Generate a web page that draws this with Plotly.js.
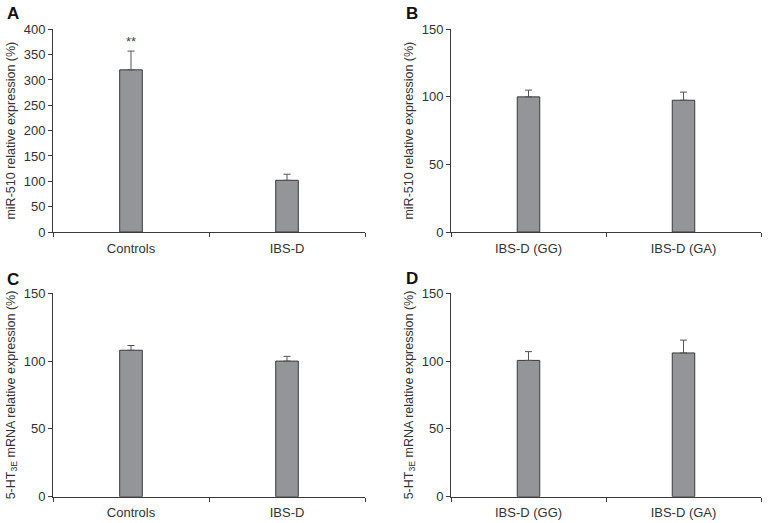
<!DOCTYPE html>
<html>
<head>
<meta charset="utf-8">
<script src="https://cdn.plot.ly/plotly-3.0.1.min.js"></script>
<style>html,body{margin:0;padding:0;background:#fff;}#chart{width:770px;height:523px;}</style>
</head>
<body>
<div id="chart"></div>
<script>
// Data
const catsAC = ["Controls", "IBS-D"];
const catsBD = ["IBS-D (GG)", "IBS-D (GA)"];
const valsA = [320, 102];
const errA = [37, 12];
const valsB = [100, 97.5];
const errB = [5, 6];
const valsC = [108, 100];
const errC = [3.5, 3.5];
const valsD = [100.5, 106];
const errD = [6.5, 9.5];
const yTitleAB = "miR-510 relative expression (%)";
const yTitleCD = "5-HT<sub>3E</sub> mRNA relative expression (%)";
const panelLetters = ["A", "B", "C", "D"];

const barFill = "#939598";
const dark = "#3a3a3a";
const fontFam = "Liberation Sans, Arial, sans-serif";

function barTrace(x, y, err, xa, ya) {
  return {
    type: "bar", x: x, y: y, xaxis: xa, yaxis: ya, width: 0.145,
    marker: {color: barFill, line: {color: dark, width: 1}},
    error_y: {type: "data", symmetric: false, array: err, arrayminus: [0, 0],
              color: "#555", thickness: 1, width: 3.5},
    showlegend: false, hoverinfo: "x+y"
  };
}

const data = [
  barTrace(catsAC, valsA, errA, "x", "y"),
  barTrace(catsBD, valsB, errB, "x2", "y2"),
  barTrace(catsAC, valsC, errC, "x3", "y3"),
  barTrace(catsBD, valsD, errD, "x4", "y4")
];

const W = 770, H = 523;
const xdomL = [53 / W, 365 / W];
const xdomR = [451 / W, 761 / W];
const ydomT = [(H - 232) / H, (H - 29.3) / H];
const ydomB = [(H - 496.7) / H, (H - 293.3) / H];

function xAxis(dom, anchor) {
  return {
    domain: dom, anchor: anchor, type: "category", range: [-0.5, 1.5],
    showline: true, linecolor: dark, linewidth: 1,
    ticks: "outside", tickson: "boundaries", ticklen: 4, tickcolor: dark,
    ticklabelstandoff: 4,
    showgrid: false, zeroline: false,
    tickfont: {size: 13, color: "#333", family: fontFam}
  };
}
function yAxis(dom, anchor, range, dtick, title) {
  return {
    domain: dom, anchor: anchor, range: range, dtick: dtick,
    showline: true, linecolor: dark, linewidth: 1,
    ticks: "outside", ticklen: 4, tickcolor: dark,
    showgrid: false, zeroline: false,
    tickfont: {size: 13, color: "#333", family: fontFam},
    title: {text: title, font: {size: 12.5, color: "#333", family: fontFam}, standoff: 5}
  };
}

const layout = {
  width: W, height: H,
  margin: {l: 0, r: 0, t: 0, b: 0},
  paper_bgcolor: "#fff", plot_bgcolor: "#fff",
  font: {family: fontFam, color: "#333"},
  showlegend: false,
  bargap: 0,
  xaxis: xAxis(xdomL, "y"),
  yaxis: yAxis(ydomT, "x", [0, 400], 50, yTitleAB),
  xaxis2: xAxis(xdomR, "y2"),
  yaxis2: yAxis(ydomT, "x2", [0, 150], 50, yTitleAB),
  xaxis3: xAxis(xdomL, "y3"),
  yaxis3: yAxis(ydomB, "x3", [0, 150], 50, yTitleCD),
  xaxis4: xAxis(xdomR, "y4"),
  yaxis4: yAxis(ydomB, "x4", [0, 150], 50, yTitleCD),
  annotations: [
    {x: catsAC[0], y: valsA[0] + errA[0], xref: "x", yref: "y", text: "**",
     showarrow: false, yanchor: "bottom", yshift: 0, font: {size: 13, color: "#444", family: fontFam}},
    {x: 13 / W, y: 1 - 14 / H, xref: "paper", yref: "paper", text: "<b>" + panelLetters[0] + "</b>",
     showarrow: false, xanchor: "center", yanchor: "middle", font: {size: 17, color: "#111", family: fontFam}},
    {x: 412 / W, y: 1 - 14 / H, xref: "paper", yref: "paper", text: "<b>" + panelLetters[1] + "</b>",
     showarrow: false, xanchor: "center", yanchor: "middle", font: {size: 17, color: "#111", family: fontFam}},
    {x: 13 / W, y: 1 - 279 / H, xref: "paper", yref: "paper", text: "<b>" + panelLetters[2] + "</b>",
     showarrow: false, xanchor: "center", yanchor: "middle", font: {size: 17, color: "#111", family: fontFam}},
    {x: 412 / W, y: 1 - 278 / H, xref: "paper", yref: "paper", text: "<b>" + panelLetters[3] + "</b>",
     showarrow: false, xanchor: "center", yanchor: "middle", font: {size: 17, color: "#111", family: fontFam}}
  ]
};

Plotly.newPlot("chart", data, layout, {staticPlot: true, displayModeBar: false});
</script>
</body>
</html>
